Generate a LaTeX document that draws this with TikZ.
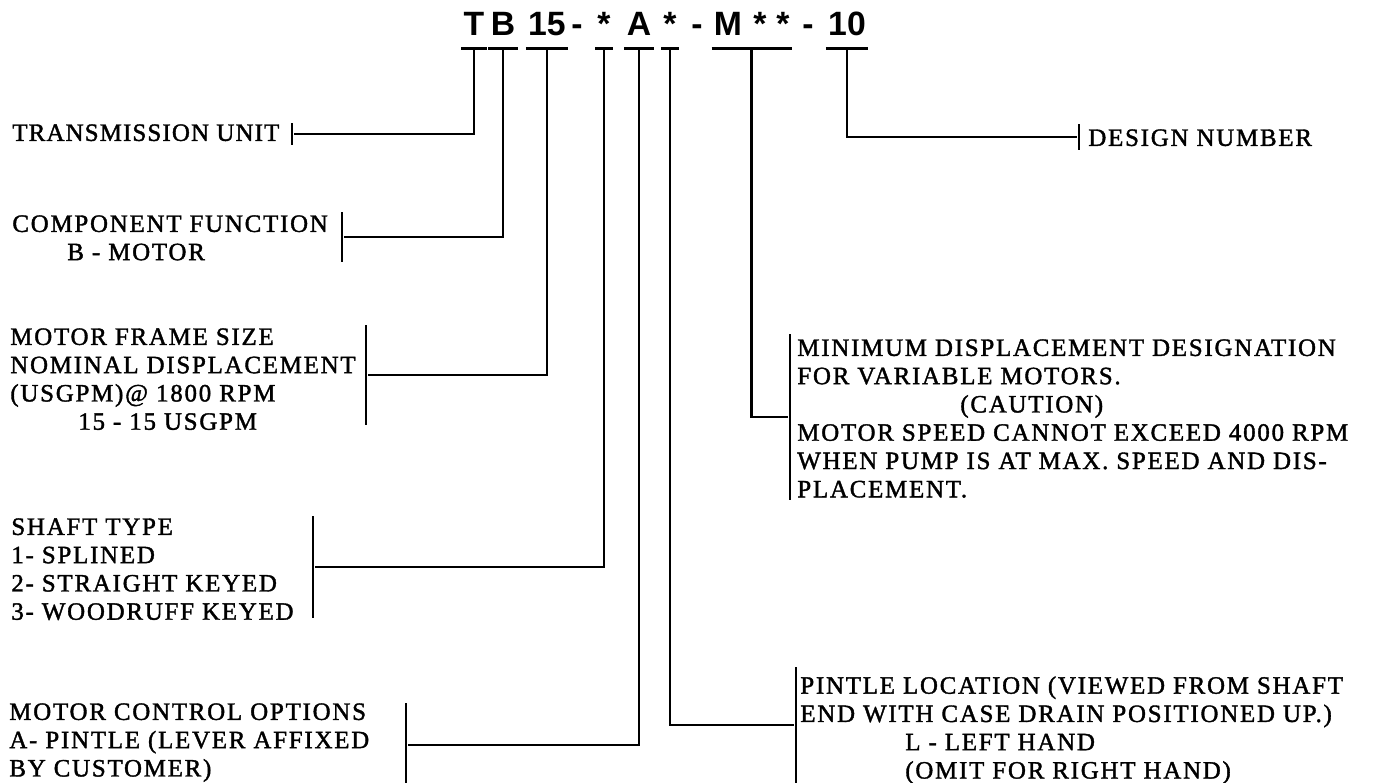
\documentclass[tikz,border=0pt]{standalone}
\usepackage{fontspec}
\setmainfont{Liberation Serif}
\newfontfamily\codefont{Liberation Sans}
\usetikzlibrary{calc}
\newcommand{\descfont}{\fontsize{14.2}{16.1}\selectfont\addfontfeature{LetterSpace=7,FakeBold=1.5}}

\tikzset{
  code/.style={font=\codefont\bfseries\fontsize{19.2}{20}\selectfont,
    anchor=base, inner xsep=0.04cm, inner ysep=0pt, text depth=0.26cm},
  desc/.style={font=\descfont, align=left, anchor=north west, inner sep=0pt},
  tickbar/.style={fill=black, inner sep=0pt, minimum width=1.5pt, minimum height=#1},
  conn/.style={line width=1.5pt},
  underbar/.style={line width=1.5pt}
}

\begin{document}
\begin{tikzpicture}[x=0.02cm, y=-0.02cm]
  \useasboundingbox (0,0) rectangle (1380,782);
  % model code
  \node[code] (cT)    at (474,35) {T};
  \node[code] (cB)    at (503,35) {B};
  \node[code] (c15)   at (547,35) {15};
  \node[code] (cDa)   at (577,35) {-};
  \node[code] (cAstA) at (604,35) {*};
  \node[code] (cA)    at (639,35) {A};
  \node[code] (cAstB) at (670,35) {*};
  \node[code] (cDb)   at (697,35) {-};
  \node[code] (cM)    at (728,35) {M};
  \node[code] (cAstC) at (760,35) {*};
  \node[code] (cAstD) at (783,35) {*};
  \node[code] (cDc)   at (808,35) {-};
  \node[code] (c10)   at (847,35) {10};
  % underbars
  \foreach \n in {cT,cB,c15,cAstA,cA,cAstB,c10}
    \draw[underbar] (\n.south west) -- (\n.south east);
  \draw[underbar] (cM.south west) -- (cAstD.south east);
  \coordinate (mMid) at ($(cM.south west)!0.5!(cAstD.south east)$);

  % left descriptions
  \node[desc, font=\descfont\addfontfeature{LetterSpace=4.5}] (tu) at (12,124) {TRANSMISSION UNIT};
  \node[tickbar=0.44cm] (tuBar) at (292,134) {};
  \node[desc] (cf) at (12,215) {COMPONENT FUNCTION\\\hspace*{1.1cm}B - MOTOR};
  \node[tickbar=1cm] (cfBar) at (342,237) {};
  \node[desc] (mf) at (10,328) {MOTOR FRAME SIZE\\NOMINAL DISPLACEMENT\\(USGPM)@ 1800 RPM\\\hspace*{1.36cm}15 - 15 USGPM};
  \node[tickbar=2cm] (mfBar) at (366,375) {};
  \node[desc] (sh) at (11,518) {SHAFT TYPE\\1- SPLINED\\2- STRAIGHT KEYED\\3- WOODRUFF KEYED};
  \node[tickbar=2.04cm] (shBar) at (313,567) {};
  \node[desc] (mc) at (9,703) {MOTOR CONTROL OPTIONS\\A- PINTLE (LEVER AFFIXED\\BY CUSTOMER)};
  \node[tickbar=1.7cm] (mcBar) at (406,745) {};

  % right descriptions
  \node[desc] (dn) at (1088,129) {DESIGN NUMBER};
  \node[tickbar=0.52cm] (dnBar) at (1079,137) {};
  \node[desc] (md) at (797,339) {MINIMUM DISPLACEMENT DESIGNATION\\FOR VARIABLE MOTORS.\\\hspace*{3.26cm}(CAUTION)\\MOTOR SPEED CANNOT EXCEED 4000 RPM\\WHEN PUMP IS AT MAX. SPEED AND DIS-\\PLACEMENT.};
  \node[tickbar=3.34cm] (mdBar) at (790,417) {};
  \node[desc] (pl) at (800,676) {PINTLE LOCATION (VIEWED FROM SHAFT\\END WITH CASE DRAIN POSITIONED UP.)\\\hspace*{2.1cm}L - LEFT HAND\\\hspace*{2.1cm}(OMIT FOR RIGHT HAND)};
  \node[tickbar=2.32cm] (plBar) at (796,725) {};

  % connectors
  \draw[conn] (cT.south) |- (tuBar);
  \draw[conn] (cB.south) |- (cfBar);
  \draw[conn] (c15.south) |- (mfBar);
  \draw[conn] (cAstA.south) |- (shBar);
  \draw[conn] (cA.south) |- (mcBar);
  \draw[conn] (cAstB.south) |- (plBar);
  \draw[conn] (mMid) |- (mdBar);
  \draw[conn] (c10.south) |- (dnBar);
\end{tikzpicture}
\end{document}
